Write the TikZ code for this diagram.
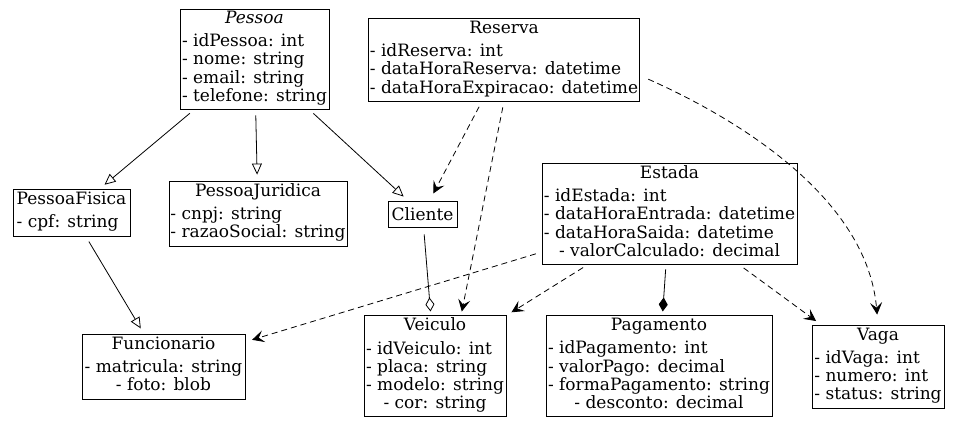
\documentclass[tikz,border=0pt]{standalone}
\usepackage{fontspec}
\setmainfont{DejaVu Serif}
\usepackage{tikz}
\usetikzlibrary{arrows.meta}
\newcommand{\centrado}[1]{\multicolumn{1}{@{}c@{}}{#1}}

\tikzset{
	classe/.style={draw, line width=0.8pt, inner xsep=1.5pt, inner ysep=2pt, font=\fontsize{17}{18}\selectfont},
	heranca/.style={line width=0.8pt, -{Triangle[open, length=11pt, width=10pt]}, shorten >=6pt, shorten <=6pt},
	dependencia/.style={line width=0.8pt, dash pattern=on 6pt off 4pt, -{Stealth[length=12pt, width=12pt, inset=5pt]}, shorten >=6pt, shorten <=6pt},
	agregacao/.style={line width=0.8pt, -{Diamond[open, length=14pt, width=9pt]}, shorten >=4pt, shorten <=7pt},
	composicao/.style={line width=0.8pt, -{Diamond[length=14pt, width=9pt]}, shorten >=4pt, shorten <=5pt},
}

\begin{document}
\begin{tikzpicture}[x=1pt, y=-1pt]
		\useasboundingbox (0,0) rectangle (960,427);
		% Classes:
		\node[classe, minimum width=149pt, minimum height=100pt] (Pessoa) at (254.5,59) {\begin{tabular}{@{}l@{}}\centrado{\textit{Pessoa}}\\[5pt] - idPessoa: int\\ - nome: string\\ - email: string\\ - telefone: string\end{tabular}};
		\node[classe, minimum width=270pt, minimum height=83pt] (Reserva) at (504,59.5) {\begin{tabular}{@{}l@{}}\centrado{Reserva}\\[5pt] - idReserva: int\\ - dataHoraReserva: datetime\\ - dataHoraExpiracao: datetime\end{tabular}};
		\node[classe, minimum width=117pt, minimum height=47pt] (PessoaFisica) at (71.5,212.5) {\begin{tabular}{@{}l@{}}\centrado{PessoaFisica}\\[4pt] - cpf: string\end{tabular}};
		\node[classe, minimum width=176pt, minimum height=65pt] (PessoaJuridica) at (258,213.5) {\begin{tabular}{@{}l@{}}\centrado{PessoaJuridica}\\[5pt] - cnpj: string\\ - razaoSocial: string\end{tabular}};
		\node[classe, minimum width=69pt, minimum height=26pt] (Cliente) at (422.5,214) {Cliente};
		\node[classe, minimum width=255pt, minimum height=101pt] (Estada) at (669.5,213.5) {\begin{tabular}{@{}l@{}}\centrado{Estada}\\[5pt] - idEstada: int\\ - dataHoraEntrada: datetime\\ - dataHoraSaida: datetime\\ \centrado{- valorCalculado: decimal}\end{tabular}};
		\node[classe, minimum width=163pt, minimum height=65pt] (Funcionario) at (163.5,366.5) {\begin{tabular}{@{}l@{}}\centrado{Funcionario}\\[5pt] - matricula: string\\ \centrado{- foto: blob}\end{tabular}};
		\node[classe, minimum width=142pt, minimum height=100pt] (Veiculo) at (435,366) {\begin{tabular}{@{}l@{}}\centrado{Veiculo}\\[5pt] - idVeiculo: int\\ - placa: string\\ - modelo: string\\ \centrado{- cor: string}\end{tabular}};
		\node[classe, minimum width=226pt, minimum height=100pt] (Pagamento) at (659,366) {\begin{tabular}{@{}l@{}}\centrado{Pagamento}\\[5pt] - idPagamento: int\\ - valorPago: decimal\\ - formaPagamento: string\\ \centrado{- desconto: decimal}\end{tabular}};
		\node[classe, minimum width=132pt, minimum height=83pt] (Vaga) at (878,366.5) {\begin{tabular}{@{}l@{}}\centrado{Vaga}\\[5pt] - idVaga: int\\ - numero: int\\ - status: string\end{tabular}};
		% Relations:
		\draw[heranca] (Pessoa) -- (PessoaFisica);
		\draw[heranca] (Pessoa) -- (PessoaJuridica);
		\draw[heranca] (Pessoa) -- (Cliente);
		\draw[heranca] (PessoaFisica) -- (Funcionario);
		\draw[dependencia, shorten >=8pt] (Reserva) -- (Cliente);
		\draw[dependencia, shorten >=4pt] (Reserva.south) -- ([xshift=26pt]Veiculo.north);
		\draw[dependencia, shorten <=9pt, shorten >=10pt] ([yshift=-16pt]Reserva.east) to[out=-24, in=95, looseness=0.9] (Vaga.north);
		\draw[dependencia, shorten >=7pt] (Estada) -- (Funcionario);
		\draw[dependencia] (Estada) -- (Veiculo.north east);
		\draw[dependencia] (Estada) -- (Vaga);
		\draw[composicao] (Estada) -- (Pagamento);
		\draw[agregacao] (Cliente) -- (Veiculo);
	\end{tikzpicture}
\end{document}
